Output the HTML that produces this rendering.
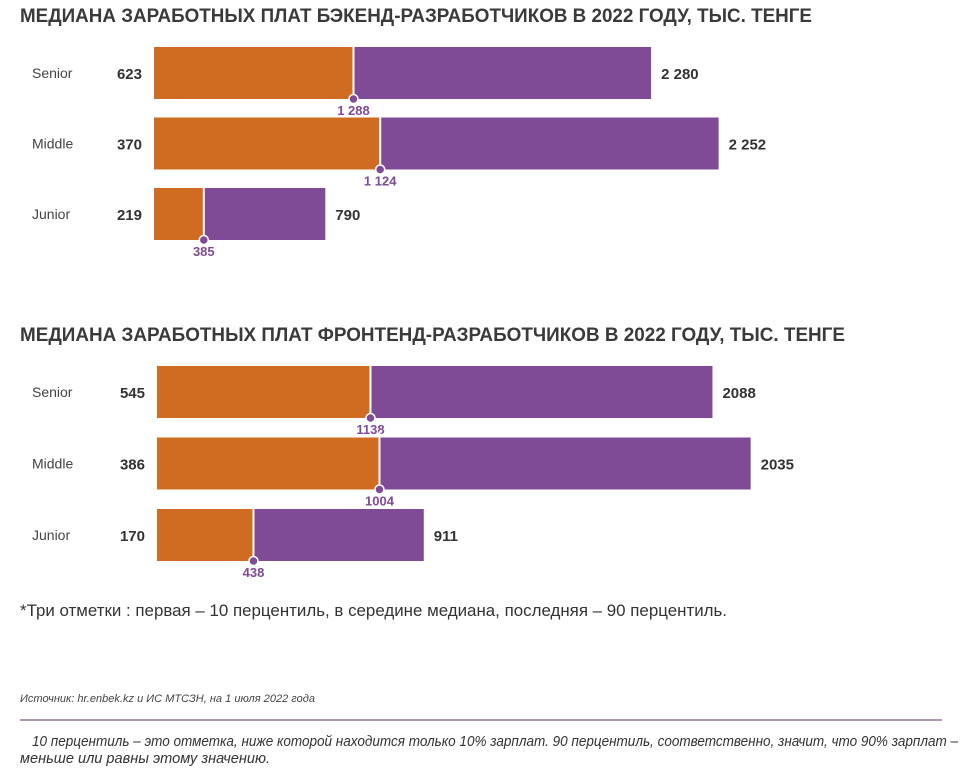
<!DOCTYPE html>
<html><head><meta charset="utf-8">
<style>
html,body{margin:0;padding:0;background:#fff;}
body{width:965px;height:768px;overflow:hidden;position:relative;font-family:"Liberation Sans",sans-serif;}
svg{position:absolute;left:0;top:0;}
</style></head><body>
<svg id="chart" width="965" height="768">
<text x="20" y="22" font-size="19" font-weight="bold" fill="#3a3a3a" textLength="792" lengthAdjust="spacingAndGlyphs">МЕДИАНА ЗАРАБОТНЫХ ПЛАТ БЭКЕНД-РАЗРАБОТЧИКОВ В 2022 ГОДУ, ТЫС. ТЕНГЕ</text>
<text x="20" y="341" font-size="19" font-weight="bold" fill="#3a3a3a" textLength="825" lengthAdjust="spacingAndGlyphs">МЕДИАНА ЗАРАБОТНЫХ ПЛАТ ФРОНТЕНД-РАЗРАБОТЧИКОВ В 2022 ГОДУ, ТЫС. ТЕНГЕ</text>
<g id="back"></g>
<g id="front"></g>
<text x="20" y="616" font-size="17" fill="#333" textLength="707" lengthAdjust="spacingAndGlyphs">*Три отметки  : первая – 10 перцентиль, в середине медиана, последняя – 90 перцентиль.</text>
<text x="20" y="702" font-size="11" font-style="italic" fill="#444" textLength="295" lengthAdjust="spacingAndGlyphs">Источник: hr.enbek.kz и ИС МТСЗН, на 1 июля 2022 года</text>
<line x1="20" y1="720" x2="942" y2="720" stroke="#7a5a86" stroke-width="1.2"/>
<text x="32" y="746" font-size="15" font-style="italic" fill="#333" textLength="926" lengthAdjust="spacingAndGlyphs">10 перцентиль – это отметка, ниже которой находится только 10% зарплат. 90 перцентиль, соответственно, значит, что 90% зарплат –</text>
<text x="20" y="763" font-size="15" font-style="italic" fill="#333" textLength="250" lengthAdjust="spacingAndGlyphs">меньше или равны этому значению.</text>
</svg>
<script>
const levels = ["Senior","Middle","Junior"];
const backP10 = [623, 370, 219];
const backMed = [1288, 1124, 385];
const backP90 = [2280, 2252, 790];
const backLabels = ["1 288","1 124","385"];
const backP90Labels = ["2 280","2 252","790"];
const frontP10 = [545, 386, 170];
const frontMed = [1138, 1004, 438];
const frontP90 = [2088, 2035, 911];
const frontLabels = ["1138","1004","438"];
const frontP90Labels = ["2088","2035","911"];

const NS="http://www.w3.org/2000/svg";
function mk(tag,attrs,parent){const e=document.createElementNS(NS,tag);for(const k in attrs)e.setAttribute(k,attrs[k]);parent.appendChild(e);return e;}
const ORANGE="#d06c22", PURPLE="#7f4b96";

function draw(gId, p10, med, p90, medLbl, p90Lbl, x0, scale, y0, step, p10x){
  const g=document.getElementById(gId);
  levels.forEach((lv,i)=>{
    const xs=v=>x0+scale*(v-p10[i]);
    const y=y0+i*step, h=52;
    const xm=xs(med[i]), xe=xs(p90[i]);
    let t=mk('text',{x:32,y:y+h/2+5,'font-size':14,fill:'#444'},g);t.textContent=lv;
    
    
    t=mk('text',{x:p10x,y:y+h/2+6,'font-size':15,'font-weight':'bold',fill:'#333','text-anchor':'end'},g);t.textContent=p10[i];
    
    
    let r=mk('rect',{x:x0,y:y,width:xm-x0,height:h,fill:ORANGE},g);
    
    
    r=mk('rect',{x:xm,y:y,width:xe-xm,height:h,fill:PURPLE},g);
    
    
    let l=mk('line',{x1:xm,y1:(gId==='front'&&i<2)?y-6:y,x2:xm,y2:y+h,stroke:'#fff','stroke-width':2},g);
    
    
    let c=mk('circle',{cx:xm,cy:y+h,r:4.5,fill:PURPLE,stroke:'#fff','stroke-width':1.5},g);
    
    
    t=mk('text',{x:xm,y:y+h+16,'font-size':13,'font-weight':'bold',fill:PURPLE,'text-anchor':'middle'},g);t.textContent=medLbl[i];
    
    
    t=mk('text',{x:xe+10,y:y+h/2+6,'font-size':15,'font-weight':'bold',fill:'#333'},g);t.textContent=p90Lbl[i];
    
    
  });
}
draw('back', backP10, backMed, backP90, backLabels, backP90Labels, 154, 0.30, 47, 70.5, 142);
draw('front', frontP10, frontMed, frontP90, frontLabels, frontP90Labels, 157, 0.36, 366, 71.5, 145);
</script>
</body></html>
